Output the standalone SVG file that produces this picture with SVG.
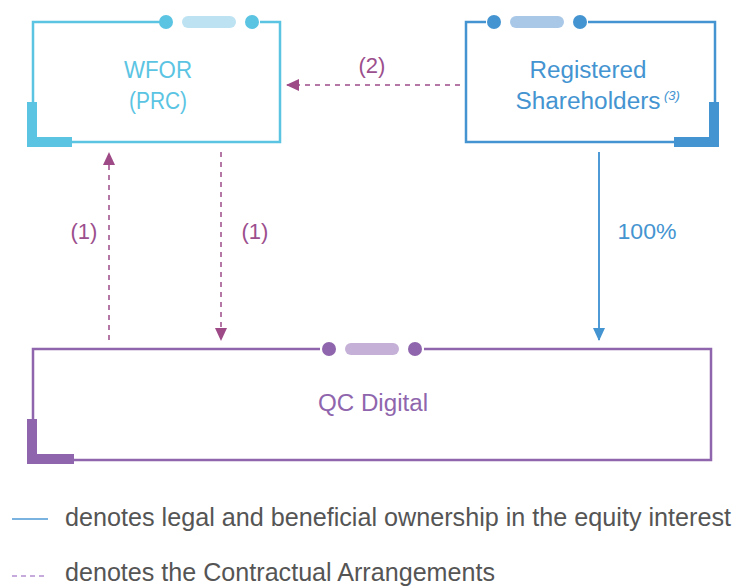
<svg xmlns="http://www.w3.org/2000/svg" width="738" height="588" viewBox="0 0 738 588">
<defs>
<style>
text{font-family:"Liberation Sans",Arial,sans-serif}
.t{font-size:23px;text-anchor:middle}
.cy{fill:#5BC4E3}.bl{fill:#4494D1}.pu{fill:#8F66AD}
.lab{font-size:22px;fill:#9C4F8D;text-anchor:middle}
.leg{font-size:22px;fill:#555}
.dash{stroke:#B578A6;stroke-width:2;stroke-dasharray:5,5;fill:none}
.solid{stroke:#4E9AD6;stroke-width:2;fill:none}
</style>
<marker id="ah" markerWidth="14" markerHeight="12" refX="12" refY="6" orient="auto" markerUnits="userSpaceOnUse"><path d="M0,0 L13,6 L0,12 Z" fill="#9E4A87"/></marker>
<marker id="ab" markerWidth="14" markerHeight="12" refX="12" refY="6" orient="auto" markerUnits="userSpaceOnUse"><path d="M0,0 L13,6 L0,12 Z" fill="#4494D1"/></marker>
</defs>
<rect width="738" height="588" fill="#fff"/>
<g id="wfor">
<rect x="33" y="22" width="247" height="120" fill="none" stroke="#5BC4E3" stroke-width="2.5"/>
<path d="M27,102 H37 V137 H72 V147 H27 Z" fill="#5BC4E3"/>
<rect x="160" y="12" width="100" height="20" fill="#fff"/>
<circle cx="166" cy="22" r="7" fill="#5BC4E3"/>
<rect x="182" y="16" width="54" height="12" rx="6" fill="#BDE3F2"/>
<circle cx="252" cy="22" r="7" fill="#5BC4E3"/>
<text class="t cy" x="158" y="78" textLength="68" lengthAdjust="spacingAndGlyphs">WFOR</text>
<text class="t cy" x="158" y="109" textLength="58" lengthAdjust="spacingAndGlyphs">(PRC)</text>
</g>
<g id="registered">
<rect x="466" y="22" width="249" height="120" fill="none" stroke="#4494D1" stroke-width="2.5"/>
<path d="M709,102 H719 V147 H674 V137 H709 Z" fill="#4494D1"/>
<rect x="486" y="12" width="102" height="20" fill="#fff"/>
<circle cx="494" cy="22" r="7" fill="#4494D1"/>
<rect x="510" y="16" width="54" height="12" rx="6" fill="#A9C8E8"/>
<circle cx="580" cy="22" r="7" fill="#4494D1"/>
<text class="t bl" x="588" y="78" textLength="117" lengthAdjust="spacingAndGlyphs">Registered</text>
<text class="t bl" x="588" y="109" textLength="145" lengthAdjust="spacingAndGlyphs">Shareholders</text>
<text class="bl" x="664" y="100" font-size="13" font-style="italic">(3)</text>
</g>
<g id="qc">
<rect x="33" y="349" width="678" height="111" fill="none" stroke="#8F66AD" stroke-width="2.5"/>
<path d="M27,419 H37 V454 H74 V464 H27 Z" fill="#8F66AD"/>
<rect x="320" y="340" width="104" height="20" fill="#fff"/>
<circle cx="329" cy="349" r="7" fill="#8F66AD"/>
<rect x="345" y="343" width="54" height="12" rx="6" fill="#C5B0D7"/>
<circle cx="415" cy="349" r="7" fill="#8F66AD"/>
<text class="t pu" x="373" y="411" textLength="110" lengthAdjust="spacingAndGlyphs">QC Digital</text>
</g>
<g id="connectors">
<line class="dash" x1="460" y1="85" x2="287" y2="85" marker-end="url(#ah)"/>
<line class="dash" x1="109" y1="340" x2="109" y2="153" marker-end="url(#ah)"/>
<line class="dash" x1="221" y1="152" x2="221" y2="340" marker-end="url(#ah)"/>
<line class="solid" x1="599" y1="152" x2="599" y2="340" marker-end="url(#ab)"/>
<text class="lab" x="372" y="73">(2)</text>
<text class="lab" x="84" y="239">(1)</text>
<text class="lab" x="255" y="239">(1)</text>
<text class="bl" x="647" y="239" font-size="22" text-anchor="middle" textLength="59" lengthAdjust="spacingAndGlyphs">100%</text>
</g>
<g id="legend">
<line x1="12" y1="519" x2="48" y2="519" stroke="#4E9AD6" stroke-width="1.5"/>
<text class="leg" transform="translate(65,526) scale(1,1.18)" x="0" y="0" textLength="666" lengthAdjust="spacingAndGlyphs">denotes legal and beneficial ownership in the equity interest</text>
<line x1="12" y1="576" x2="48" y2="576" stroke="#B48FD0" stroke-width="1.5" stroke-dasharray="5,4"/>
<text class="leg" transform="translate(65,581) scale(1,1.18)" x="0" y="0" textLength="430" lengthAdjust="spacingAndGlyphs">denotes the Contractual Arrangements</text>
</g>
</svg>
